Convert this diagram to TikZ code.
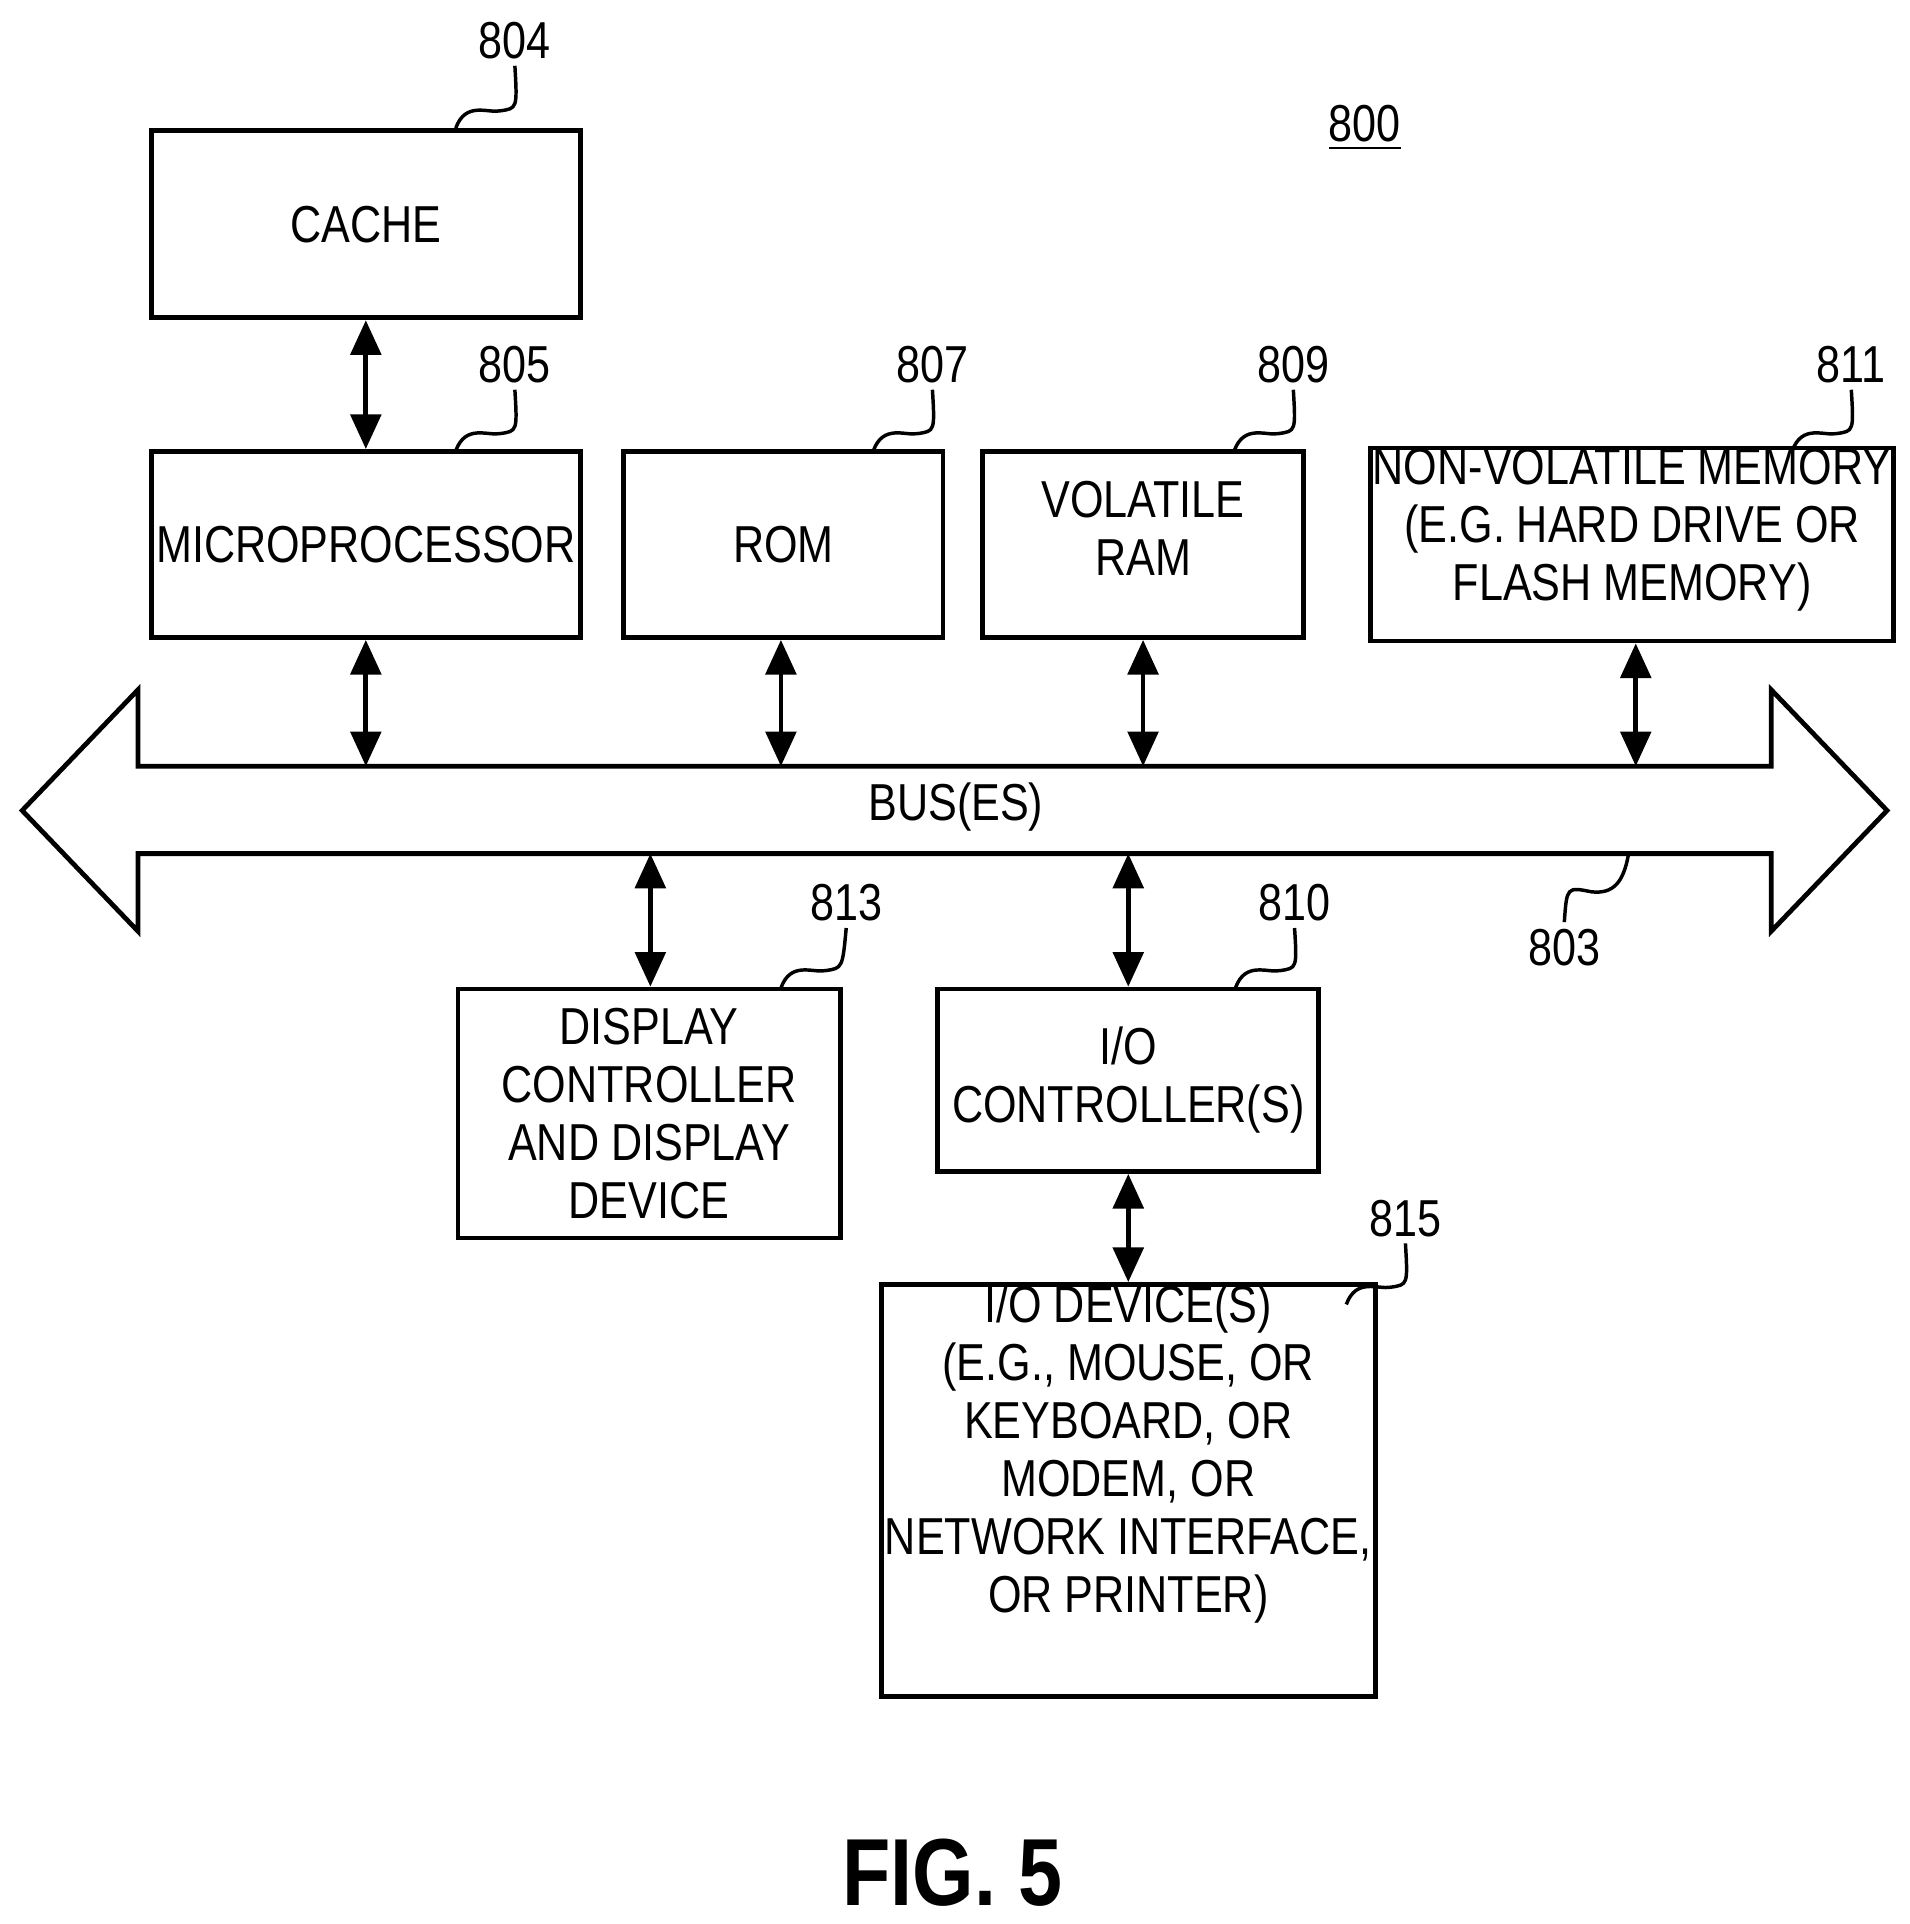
\documentclass[tikz,border=0pt]{standalone}
\usepackage{fontspec}
\setmainfont{Liberation Sans}[FakeStretch=0.83]
\usetikzlibrary{positioning, calc, arrows.meta}

\begin{document}
\begin{tikzpicture}[x=0.01cm, y=-0.01cm, >={Triangle[width=7pt,length=8pt]}, line width=1.1pt,
  font=\fontsize{12}{13.4}\selectfont]
\tikzset{
  blk/.style={draw, align=center, inner sep=0pt},
  num/.style={inner sep=1pt},
  lead/.style={line width=0.8pt}
}
\useasboundingbox (0,0) rectangle (1550,1562);

% top row
\node[blk, minimum width=3.48cm, minimum height=1.52cm] (cache) at (297,182) {CACHE};
\node[blk, minimum width=3.48cm, minimum height=1.51cm] (micro) at (297,442) {MICROPROCESSOR};
\node[blk, minimum width=2.59cm, minimum height=1.51cm] (rom) at (636,442) {ROM};
\node[blk, minimum width=2.60cm, minimum height=1.51cm] (ram) at (928,442) {VOLATILE\\RAM\\[-6pt]};
\node[blk, minimum width=4.24cm, minimum height=1.51cm] (nvm) at (1325,442) {NON-VOLATILE MEMORY\\(E.G. HARD DRIVE OR\\FLASH MEMORY)\\[-4pt]};

% bus
\draw (112,622) -- (112,560) -- (18,658) -- (112,756) -- (112,693) -- (1438,693)
  -- (1438,756) -- (1532,658) -- (1438,560) -- (1438,622) -- cycle;
\node (bus) at (776,655) {BUS(ES)};
\coordinate (bt) at (0,622);
\coordinate (bb) at (0,693);

% lower row
\node[blk, minimum width=3.10cm, minimum height=2.02cm] (disp) at (527,904) {DISPLAY\\CONTROLLER\\AND DISPLAY\\DEVICE};
\node[blk, minimum width=3.09cm, minimum height=1.48cm] (ioc) at (916,877) {I/O\\CONTROLLER(S)};
\node[blk, minimum width=4.01cm, minimum height=3.00cm] (iod) at (916,1210) {I/O DEVICE(S)\\(E.G., MOUSE, OR\\KEYBOARD, OR\\MODEM, OR\\NETWORK INTERFACE,\\OR PRINTER)\\[6pt]};

% connectors
\draw[<->] (cache) -- (micro);
\draw[<->] (micro) -- (micro |- bt);
\draw[<->] (rom.south -| 634,0) -- (634,622);
\draw[<->] (ram) -- (ram |- bt);
\draw[<->] (nvm.south -| 1328,0) -- (1328,622);
\draw[<->] (528,693) -- (disp.north -| 528,0);
\draw[<->] (ioc |- bb) -- (ioc);
\draw[<->] (ioc) -- (iod);

% reference numerals
\node[num] (n804) at (418,33) {804};
\node[num] (n805) at (418,296) {805};
\node[num] (n807) at (757,296) {807};
\node[num] (n809) at (1050,296) {809};
\node[num] (n811) at (1503,296) {811};
\node[num] (n813) at (687,733) {813};
\node[num] (n810) at (1051,733) {810};
\node[num] (n815) at (1141,989) {815};
\node[num] (n803) at (1270,769) {803};
\node[num] (n800) at (1108,104) {\underline{800}};

\draw[lead] (370,104) .. controls (378,82) and (396,92) .. (406,90) .. controls (420,88) .. (n804.south);
\draw[lead] (370,366) .. controls (378,344) and (396,354) .. (406,352) .. controls (420,350) .. (n805.south);
\draw[lead] (709,366) .. controls (717,344) and (735,354) .. (745,352) .. controls (759,350) .. (n807.south);
\draw[lead] (1002,366) .. controls (1010,344) and (1028,354) .. (1038,352) .. controls (1052,350) .. (n809.south);
\draw[lead] (1455,366) .. controls (1463,344) and (1481,354) .. (1491,352) .. controls (1505,350) .. (n811.south);
\draw[lead] (634,802) .. controls (642,780) and (660,790) .. (670,788) .. controls (684,786) .. (n813.south);
\draw[lead] (1003,802) .. controls (1011,780) and (1029,790) .. (1039,788) .. controls (1053,786) .. (n810.south);
\draw[lead] (1093,1059) .. controls (1101,1037) and (1119,1047) .. (1129,1045) .. controls (1143,1043) .. (n815.south);
\draw[lead] (1322,694) .. controls (1318,716) and (1310,726) .. (1292,724) .. controls (1272,720) .. (n803.north);

\node[font=\fontsize{22}{24}\selectfont\bfseries] (fig) at (773,1520) {FIG. 5};
\end{tikzpicture}
\end{document}
